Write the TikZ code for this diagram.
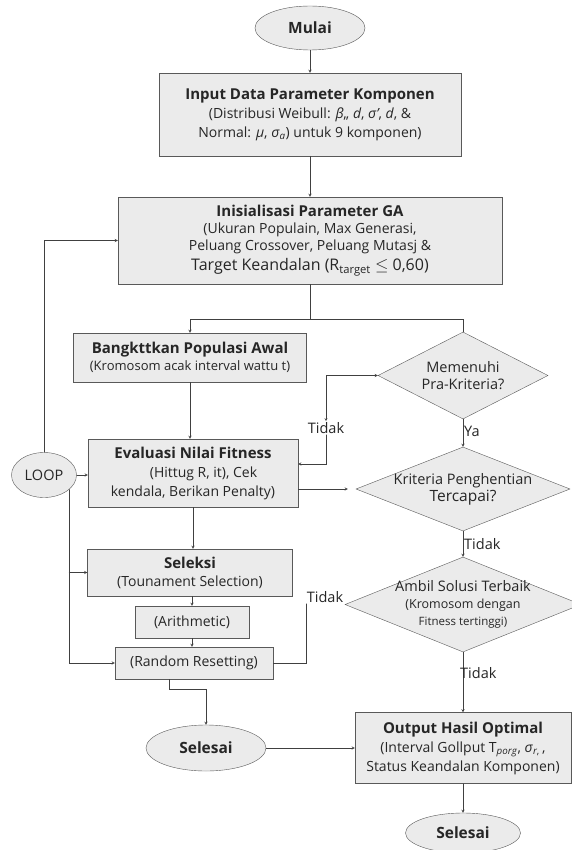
\documentclass[tikz,border=0pt]{standalone}
\usepackage{fontspec}
\setmainfont{Open Sans}
\usetikzlibrary{shapes.geometric}
\tikzset{
	box/.style={draw=black!65,fill=black!8,align=center,inner sep=2pt,font=\fontsize{14}{19}\selectfont},
	term/.style={ellipse,draw=black!65,fill=black!8,inner sep=0pt,font=\fontsize{15.5}{17}\selectfont\bfseries},
	dec/.style={diamond,draw=black!65,fill=black!8,inner sep=0pt},
	arr/.style={->,>=stealth},
	lbl/.style={font=\fontsize{14.5}{17}\selectfont,inner sep=1pt}
}
\begin{document}
\begin{tikzpicture}[x=1pt,y=-1pt,line cap=round,draw=black!75,text=black!85]
		\useasboundingbox[fill=white] (0,0) rectangle (572,850);
		\node[term,minimum width=110,minimum height=44] (mulai) at (310,28) {Mulai};
		\node[box,minimum width=302,minimum height=83] (input) at (310,114.5) {{\fontsize{15}{19}\selectfont\bfseries Input Data Parameter Komponen}\\(Distribusi Weibull: \textit{β},, \textit{d}, \textit{σ'}, \textit{d}, \&\\Normal: \textit{μ}, \textit{σ}\textsubscript{\textit{a}}) untuk 9 komponen)};
		\node[box,minimum width=384,minimum height=87,font=\fontsize{14}{17}\selectfont] (init) at (310,240.5) {{\fontsize{15}{17}\selectfont\bfseries Inisialisasi Parameter GA}\\(Ukuran Populain, Max Generasi,\\Peluang Crossover, Peluang Mutasj \&\\[3pt]{\fontsize{16}{19}\selectfont Target Keandalan (R\textsubscript{target} $\le$ 0,60)}};
		\node[box,minimum width=233,minimum height=49,font=\fontsize{13}{17}\selectfont] (bangkit) at (190,357.5) {{\fontsize{15}{17}\selectfont\bfseries Bangkttkan Populasi Awal}\\(Kromosom acak interval wattu t)};
		\node[dec,minimum width=170,minimum height=87,label={[align=center,lbl]center:Memenuhi\\Pra-Kriteria?}] (pra) at (463,375.5) {};
		\node[box,minimum width=210,minimum height=68,font=\fontsize{14}{19}\selectfont] (eval) at (193,473) {{\fontsize{15}{19}\selectfont\bfseries Evaluasi Nilai Fitness}\\\hspace*{1.5em}(Hittug R, it), Cek\\kendala, Berikan Penalty)};
		\node[dec,minimum width=214,minimum height=84,label={[align=center,lbl]center:Kriteria Penghentian\\{\fontsize{15.5}{17}\selectfont Tercapai?}}] (krit) at (463,489) {};
		\node[box,minimum width=205,minimum height=47,font=\fontsize{14}{18}\selectfont] (seleksi) at (190,572.5) {{\fontsize{15}{18}\selectfont\bfseries Seleksi}\\(Tounament Selection)};
		\node[box,minimum width=114,minimum height=32] (arith) at (192,622) {(Arithmetic)};
		\node[box,minimum width=158,minimum height=32] (rr) at (194,663) {(Random Resetting)};
		\node[dec,minimum width=236,minimum height=95,label={[align=center,lbl]center:Ambil Solusi Terbaik\\{\fontsize{12.5}{14}\selectfont (Kromosom dengan}\\{\fontsize{11.5}{13}\selectfont Fitness tertinggi)}}] (ambil) at (463,604.5) {};
		\node[box,minimum width=216,minimum height=71,font=\fontsize{14}{19}\selectfont] (output) at (463,748) {{\fontsize{15}{19}\selectfont\bfseries Output Hasil Optimal}\\(Interval Gollput T\textsubscript{\textit{porg}}, \textit{σ}\textsubscript{\textit{r},}\,,\\Status Keandalan Komponen)};
		\node[term,minimum width=120,minimum height=46] (selesai1) at (206,748) {Selesai};
		\node[term,minimum width=115,minimum height=40] (selesai2) at (463,833) {Selesai};
		\node[term,font=\fontsize{14.5}{16}\selectfont,minimum width=65,minimum height=45] (loop) at (44,475) {LOOP};
		\node[lbl] (tidak1) at (326,428) {Tidak};
		\node[lbl] (tidak2) at (325,597) {Tidak};
		\coordinate (sp) at (310,319);
		\draw[arr] (mulai) -- (input);
		\draw[arr] (input) -- (init);
		\draw (init) -- (sp);
		\draw[arr] (sp) -| (bangkit);
		\draw (sp) -| (pra);
		\draw[arr] (bangkit) -- (bangkit.south |- eval.north);
		\draw[<->,>=stealth] (tidak1) |- (pra);
		\draw[arr] (tidak1) |- ([yshift=9pt]eval.east);
		\draw[arr] (pra) -- node[lbl,right,pos=.45]{Ya} (krit);
		\draw[arr] (eval.east |- krit.west) -- ([xshift=-8pt]krit.west);
		\draw[arr] (krit) -- node[lbl,right,pos=.5]{Tidak} (ambil);
		\draw[arr] (eval) -- (eval.south |- seleksi.north);
		\draw[arr] (seleksi.south -| arith) -- (arith);
		\draw[arr] (arith) -- (arith.south |- rr.north);
		\draw (rr.east) -| ([xshift=1pt]tidak2.south west);
		\draw[arr] ([xshift=-25pt]rr.south) |- ++(0,10) -| (selesai1);
		\draw[arr] (ambil) -- node[lbl,right,pos=.35,xshift=-4pt]{Tidak} (output);
		\draw[arr] (selesai1) -- (output);
		\draw[arr] (output) -- (selesai2);
		\draw[arr] (loop) |- (init);
		\draw[arr] (loop) -- (loop -| eval.west);
		\draw[arr] (loop.-30) |- (rr.west);
		\draw[arr] (loop.-30 |- seleksi.west) -- (seleksi.west);
\end{tikzpicture}
\end{document}
